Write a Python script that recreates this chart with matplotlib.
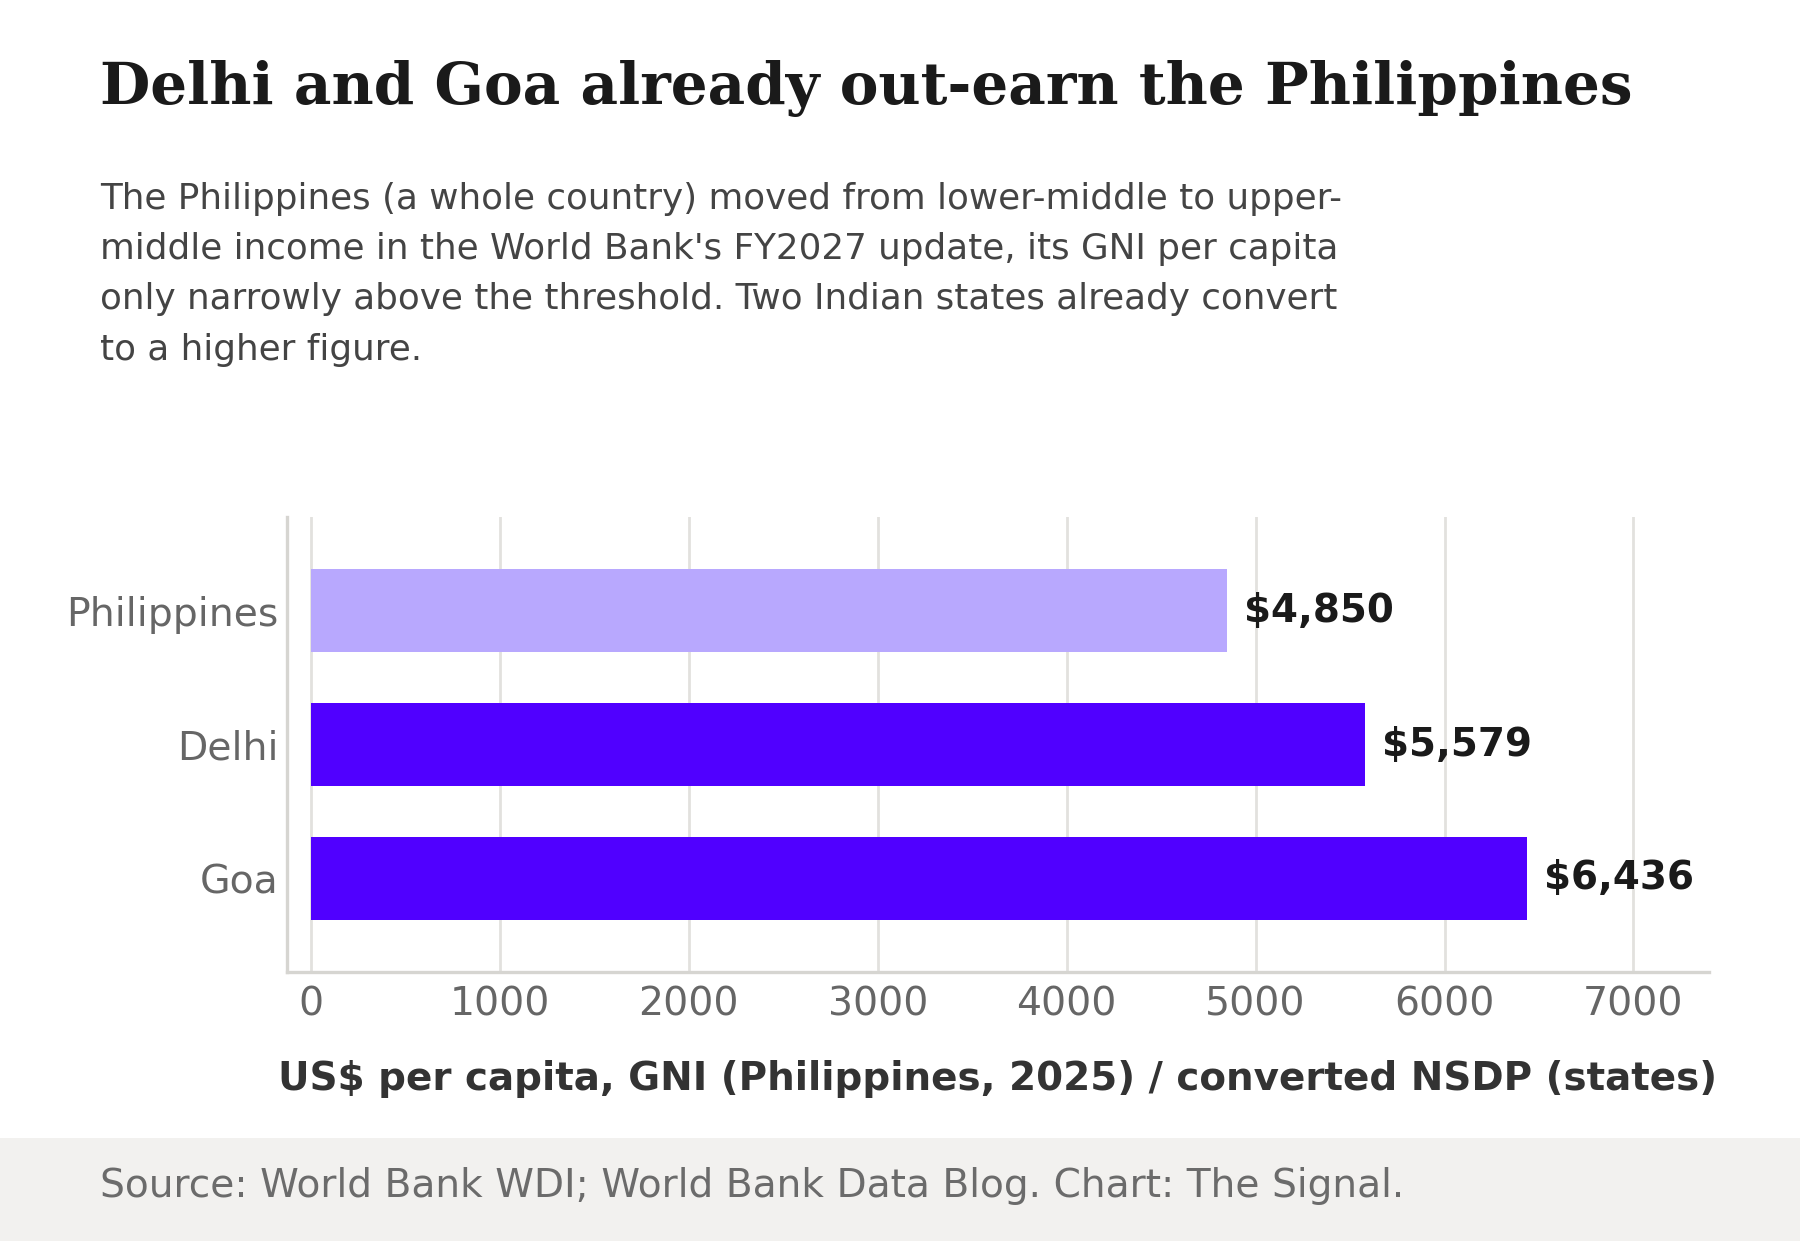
"""Delhi and Goa vs the Philippines: GNI / converted NSDP per capita, horizontal bars."""

import matplotlib

matplotlib.use("Agg")
import matplotlib.pyplot as plt
from matplotlib.patches import Rectangle

W, H = 1800, 1241
DPI = 200

# data
REGIONS = ["Philippines", "Delhi", "Goa"]
VALUES = [4850, 5579, 6436]
COLORS = ["#b8a8fe", "#5000ff", "#5000ff"]
XTICKS = [0, 1000, 2000, 3000, 4000, 5000, 6000, 7000]

TITLE = "Delhi and Goa already out-earn the Philippines"
SUBTITLE = ("The Philippines (a whole country) moved from lower-middle to upper-\n"
            "middle income in the World Bank's FY2027 update, its GNI per capita\n"
            "only narrowly above the threshold. Two Indian states already convert\n"
            "to a higher figure.")
XLABEL = "US$ per capita, GNI (Philippines, 2025) / converted NSDP (states)"
SOURCE = "Source: World Bank WDI; World Bank Data Blog. Chart: The Signal."


def fx(px):
    return px / W


def fy(py):
    # pixel row from top -> figure fraction
    return 1 - py / H


fig = plt.figure(figsize=(W / DPI, H / DPI), dpi=DPI)
fig.patch.set_facecolor("white")

# footer band
fig.patches.append(Rectangle((0, 0), 1, fy(1138), transform=fig.transFigure,
                             facecolor="#f2f1ef", edgecolor="none", zorder=0))

ax = fig.add_axes([fx(287), fy(972), fx(1709 - 287), (972 - 517) / H])
ax.barh(REGIONS, VALUES, height=0.62, color=COLORS, zorder=3)
ax.set_ylim(2.7, -0.7)
ax.set_xlim(-127, 7400)
ax.set_xticks(XTICKS)
ax.tick_params(axis="both", length=0, labelcolor="#666666", labelsize=14.2)
ax.tick_params(axis="x", pad=5)
ax.tick_params(axis="y", pad=3)
ax.grid(axis="x", color="#e2e1de", linewidth=1.0, zorder=0)
ax.set_axisbelow(True)
for s in ["top", "right"]:
    ax.spines[s].set_visible(False)
for s in ["left", "bottom"]:
    ax.spines[s].set_color("#d6d5d1")
    ax.spines[s].set_linewidth(1.2)

for i, v in enumerate(VALUES):
    ax.annotate(f"${v:,}", xy=(v, i), xytext=(6, 0), textcoords="offset points",
                ha="left", va="center", fontsize=14, fontweight="bold", color="#1a1a1a")

ax.set_xlabel(XLABEL, fontsize=14, fontweight="bold", color="#333333", labelpad=13)

fig.text(fx(100), fy(104), TITLE, fontsize=20.9, fontweight="bold", family="DejaVu Serif",
         color="#1a1a1a", ha="left", va="baseline")
fig.text(fx(100), fy(182), SUBTITLE, fontsize=12.9, color="#444444", ha="left", va="top",
         linespacing=1.6)
fig.text(fx(100), fy(1186), SOURCE, fontsize=14.1, color="#6b6b6b", ha="left", va="center")

fig.savefig("out.png", dpi=DPI)
